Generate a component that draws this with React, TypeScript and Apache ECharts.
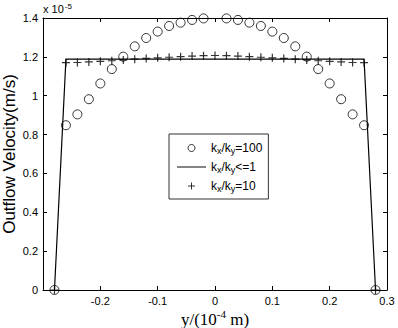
import React, { useEffect, useRef } from "react";
import * as echarts from "echarts";

const xCircle = [-0.28, -0.26, -0.24, -0.22, -0.2, -0.18, -0.16, -0.14, -0.12, -0.1, -0.08, -0.06, -0.04, -0.02, 0, 0.02, 0.04, 0.06, 0.08, 0.1, 0.12, 0.14, 0.16, 0.18, 0.2, 0.22, 0.24, 0.26, 0.28];
const yCircle = [0, 0.848, 0.904, 0.982, 1.063, 1.137, 1.201, 1.254, 1.297, 1.33, 1.359, 1.376, 1.39, 1.398, 1.402, 1.398, 1.39, 1.376, 1.359, 1.33, 1.297, 1.254, 1.201, 1.137, 1.063, 0.982, 0.904, 0.848, 0];
const yPlus = [0, 1.17, 1.171, 1.174, 1.177, 1.18, 1.184, 1.188, 1.192, 1.195, 1.198, 1.201, 1.204, 1.206, 1.207, 1.206, 1.204, 1.201, 1.198, 1.195, 1.192, 1.188, 1.184, 1.18, 1.177, 1.174, 1.171, 1.17, 0];
const xLine = [-0.28, -0.26, 0.26, 0.28];
const yLine = [0, 1.188, 1.188, 0];
const seriesNames = ["kx/ky=100", "kx/ky<=1", "kx/ky=10"];
const legendRich: Record<string, string> = {
  "kx/ky=100": "{a|k}{s|x}{a|/k}{s|y}{a|=100}",
  "kx/ky<=1": "{a|k}{s|x}{a|/k}{s|y}{a|<=1}",
  "kx/ky=10": "{a|k}{s|x}{a|/k}{s|y}{a|=10}",
};

const PLUS = "path://M0,5 L10,5 M5,0 L5,10";
const LINE_ICON = "path://M0,0 L60,0 L60,2 L0,2 Z";

export default function App() {
  const ref = useRef<HTMLDivElement>(null);
  useEffect(() => {
    const chart = echarts.init(ref.current!, null, { renderer: "svg" });
    const font = "Liberation Sans";
    const grid = { left: 43, right: 11, top: 18, bottom: 38, outerBoundsMode: "none", containLabel: false };
    chart.setOption({
      animation: false,
      backgroundColor: "#fff",
      grid,
      legend: {
        orient: "vertical",
        left: 169,
        top: 134,
        padding: [8, 6, 6, 8],
        itemWidth: 29,
        itemHeight: 7,
        itemGap: 6,
        borderColor: "#333",
        borderWidth: 1,
        data: [
          { name: seriesNames[0], itemStyle: { borderWidth: 1, borderColor: "#000", color: "rgba(255,255,255,0)" } },
          { name: seriesNames[1], icon: LINE_ICON },
          { name: seriesNames[2], itemStyle: { borderWidth: 1, borderColor: "#000", color: "transparent" } },
        ],
        formatter: (n: string) => legendRich[n] || n,
        textStyle: {
          fontFamily: font,
          color: "#000",
          rich: {
            a: { fontFamily: font, fontSize: 12, lineHeight: 14, color: "#000" },
            s: { fontFamily: font, fontSize: 9, lineHeight: 9, verticalAlign: "bottom", color: "#000" },
          },
        },
      },
      graphic: [
        {
          type: "text",
          left: 43,
          top: 2,
          style: {
            text: "{a|x 10}{s|-5}",
            rich: {
              a: { fontFamily: font, fontSize: 11, lineHeight: 12, verticalAlign: "bottom", fill: "#000" },
              s: { fontFamily: font, fontSize: 8, lineHeight: 9, verticalAlign: "top", fill: "#000", padding: [0, 0, 0, 1] },
            },
          },
        },
      ],
      xAxis: [
        {
          type: "value",
          min: -0.3,
          max: 0.3,
          interval: 0.1,
          position: "bottom",
          name: "{a|y/(10}{s|-4}{a| m)}",
          nameLocation: "middle",
          nameGap: 18,
          nameMoveOverlap: false,
          nameTextStyle: {
            rich: {
              a: { fontFamily: "Liberation Serif", fontSize: 17, lineHeight: 20, verticalAlign: "bottom", color: "#000" },
              s: { fontFamily: "Liberation Serif", fontSize: 11, lineHeight: 12, verticalAlign: "top", color: "#000" },
            },
          },
          axisLine: { onZero: false, lineStyle: { color: "#000", width: 1 } },
          axisTick: { inside: true, length: 4, lineStyle: { color: "#000" } },
          axisLabel: {
            fontFamily: font,
            fontSize: 11,
            color: "#000",
            margin: 5,
            showMinLabel: false,
            formatter: (v: number) => String(Math.round(v * 10) / 10),
          },
          splitLine: { show: false },
        },
        {
          type: "value",
          min: -0.3,
          max: 0.3,
          interval: 0.1,
          position: "top",
          axisLine: { onZero: false, lineStyle: { color: "#000", width: 1 } },
          axisTick: { inside: true, length: 4, lineStyle: { color: "#000" } },
          axisLabel: { show: false },
          splitLine: { show: false },
        },
      ],
      yAxis: [
        {
          type: "value",
          min: 0,
          max: 1.4,
          interval: 0.2,
          position: "left",
          name: "Outflow Velocity(m/s)",
          nameLocation: "middle",
          nameGap: 25,
          nameMoveOverlap: false,
          nameTextStyle: { fontFamily: font, fontSize: 17, color: "#000" },
          axisLine: { onZero: false, lineStyle: { color: "#000", width: 1 } },
          axisTick: { inside: true, length: 4, lineStyle: { color: "#000" } },
          axisLabel: {
            fontFamily: font,
            fontSize: 11,
            color: "#000",
            margin: 5,
            formatter: (v: number) => String(Math.round(v * 10) / 10),
          },
          splitLine: { show: false },
        },
        {
          type: "value",
          min: 0,
          max: 1.4,
          interval: 0.2,
          position: "right",
          axisLine: { onZero: false, lineStyle: { color: "#000", width: 1 } },
          axisTick: { inside: true, length: 4, lineStyle: { color: "#000" } },
          axisLabel: { show: false },
          splitLine: { show: false },
        },
      ],
      series: [
        {
          name: seriesNames[0],
          type: "scatter",
          data: xCircle.map((x, i) => [x, yCircle[i]]),
          symbol: "circle",
          symbolSize: 9,
          itemStyle: { color: "rgba(255,255,255,0)", borderColor: "#000", borderWidth: 1 },
        },
        {
          name: seriesNames[1],
          type: "line",
          data: xLine.map((x, i) => [x, yLine[i]]),
          symbol: "none",
          lineStyle: { color: "#000", width: 1.2 },
          itemStyle: { color: "#000" },
        },
        {
          name: seriesNames[2],
          type: "scatter",
          data: xCircle.map((x, i) => [x, yPlus[i]]),
          symbol: PLUS,
          symbolSize: 8,
          itemStyle: { color: "transparent", borderColor: "#000", borderWidth: 1.2 },
        },
      ],
    });
    return () => chart.dispose();
  }, []);
  return <div ref={ref} style={{ width: 398, height: 328, position: "absolute", left: 0, top: 0 }} />;
}
